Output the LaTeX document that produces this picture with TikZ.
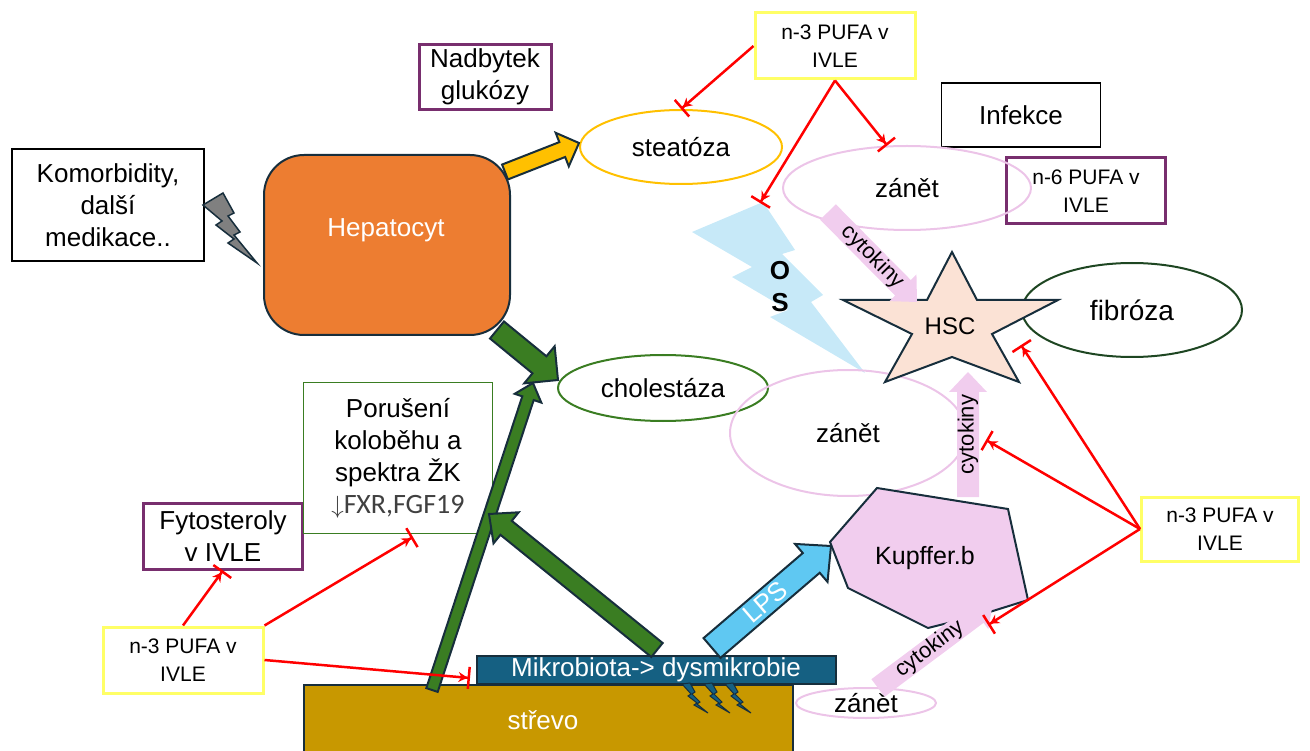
\documentclass[tikz,border=0pt]{standalone}
\usepackage{fontspec}
\setmainfont{Liberation Sans}
\newfontfamily\calibfont{Carlito}
\usetikzlibrary{shapes.geometric, arrows.meta, calc, positioning}

\definecolor{hepor}{RGB}{237,125,49}
\definecolor{darkol}{RGB}{23,46,60}
\definecolor{purp}{RGB}{120,46,110}
\definecolor{yelline}{RGB}{255,255,102}
\definecolor{steatc}{RGB}{255,192,0}
\definecolor{zanpink}{RGB}{236,196,232}
\definecolor{kupink}{RGB}{241,205,238}
\definecolor{cholgr}{RGB}{58,125,34}
\definecolor{fibgr}{RGB}{30,70,34}
\definecolor{hscfill}{RGB}{251,226,213}
\definecolor{osblue}{RGB}{199,233,248}
\definecolor{lpsblue}{RGB}{95,200,242}
\definecolor{mikroc}{RGB}{21,96,130}
\definecolor{strevc}{RGB}{200,152,0}
\definecolor{boltgray}{RGB}{128,128,128}
\definecolor{fxrtext}{RGB}{64,64,64}

% fat block arrow: style, from, to, half shaft, half head, head length
\newcommand{\fatarr}[6]{%
  \coordinate (fa-b) at ($(#3)!#6!(#2)$);
  \draw[#1] ($(#2)!#4!90:(#3)$) -- ($(fa-b)!#4!-90:(#2)$) -- ($(fa-b)!#5!-90:(#2)$)
    -- (#3) -- ($(fa-b)!#5!90:(#2)$) -- ($(fa-b)!#4!90:(#2)$) -- ($(#2)!#4!-90:(#3)$) -- cycle;
}

\tikzset{
  txtbox/.style={draw=black, line width=1.5pt, rectangle},
  purpbox/.style={draw=purp, line width=3pt, rectangle},
  pufabox/.style={draw=yelline, line width=3pt, rectangle, font=\fontsize{21}{28}\selectfont},
  ring/.style={ellipse, line width=2pt},
  inhib/.style={draw=red, line width=2.5pt, -{Stealth[length=9pt,width=10pt] Bar[width=22pt,line width=2.5pt]}},
  yelarr/.style={fill=steatc, draw=darkol, line width=2pt},
  grarr/.style={fill=cholgr, draw=darkol, line width=2pt},
  lpsarr/.style={fill=lpsblue, draw=darkol, line width=2pt},
  cytarr/.style={fill=kupink, draw=none},
  cytlab/.style={font=\fontsize{22}{26}\selectfont, sloped},
}

\begin{document}
\begin{tikzpicture}[x=1pt, y=-1pt,
  every node/.style={font=\fontsize{26}{32}\selectfont, align=center, inner sep=0pt}]
  \useasboundingbox (0,0) rectangle (1310,751);

  % oxidative stress bolt
  \fill[osblue] (692,232) -- (763,202) -- (795,250) -- (782,254) -- (823,295) -- (811,302)
    -- (865,373) -- (770,317) -- (788,310) -- (732,277) -- (752,267) -- cycle;
  \node[font=\bfseries\fontsize{26}{32}\selectfont] (os) at (780,287) {O\\S};

  % boxes
  \node[txtbox, minimum width=192pt, minimum height=112pt] (komor) at (108,205) {Komorbidity,\\další\\medikace..};
  \node[draw=darkol, fill=hepor, line width=2pt, rounded corners=40pt,
        minimum width=246pt, minimum height=180pt] (hep) at (387,245) {};
  \node[text=white] (heptxt) at (386,230) {Hepatocyt};
  \node[purpbox, minimum width=132pt, minimum height=65pt] (nadb) at (485,77) {Nadbytek\\glukózy};
  \node[pufabox, minimum width=160pt, minimum height=66pt] (pufatop) at (835,46) {n-3 PUFA v\\IVLE};
  \node[txtbox, minimum width=159pt, minimum height=64pt] (infek) at (1021,115) {Infekce};
  \node[purpbox, minimum width=159pt, minimum height=66pt, font=\fontsize{21}{28}\selectfont] (pufasix) at (1086,191) {n-6 PUFA v\\IVLE};
  \node[purpbox, minimum width=159pt, minimum height=66pt] (fyto) at (223,536) {Fytosteroly\\v IVLE};
  \node[draw=cholgr, line width=1.5pt, minimum width=189pt, minimum height=151pt] (porus) at (398,458)
    {Porušení\\koloběhu a\\spektra ŽK\\{\color{fxrtext}{\fontsize{26}{30}\selectfont$\big\downarrow$}\calibfont\fontsize{28}{32}\selectfont FXR,FGF19}};
  \node[pufabox, minimum width=160pt, minimum height=66pt] (pufaleft) at (183,660) {n-3 PUFA v\\IVLE};
  \node[pufabox, minimum width=157pt, minimum height=64pt] (pufaright) at (1220,529) {n-3 PUFA v\\IVLE};

  % ellipses
  \node[ring, draw=steatc, minimum width=202pt, minimum height=74pt] (steat) at (681,147) {steatóza};
  \node[ring, draw=zanpink, minimum width=248pt, minimum height=84pt] (zanA) at (907,188) {zánět};
  \node[ring, draw=fibgr, minimum width=220pt, minimum height=94pt, font=\fontsize{28}{32}\selectfont] (fib) at (1132,310) {fibróza};
  \node[ring, draw=cholgr, minimum width=210pt, minimum height=66pt] (chol) at (663,388) {cholestáza};
  \node[ring, draw=zanpink, minimum width=236pt, minimum height=126pt] (zanB) at (848,433) {zánět};
  \node[ring, draw=zanpink, minimum width=140pt, minimum height=30pt] (zanC) at (866,703) {zánět};

  % hepatic stellate cell
  \draw[fill=hscfill, draw=darkol, line width=2pt] (952,252) -- (977,300) -- (1058,300) -- (992,334)
    -- (1019,382) -- (952,357) -- (885,382) -- (912,334) -- (843,300) -- (927,300) -- cycle;
  \node[font=\fontsize{24}{28}\selectfont] (hsc) at (950,326) {HSC};

  % Kupffer cell
  \draw[fill=kupink, draw=darkol, line width=2pt] (877,488) -- (1008,509) -- (1028,600) -- (980,615)
    -- (928,628) -- (848,588) -- (830,542) -- cycle;
  \node[font=\fontsize{25}{30}\selectfont] (kup) at (925,558) {Kupffer.b};

  % gut
  \node[fill=strevc, draw=darkol, line width=2pt, minimum width=489pt, minimum height=80pt] (strevo) at (548,725) {};
  \node[text=white] (strevotxt) at (543,720) {střevo};
  \node[fill=mikroc, draw=darkol, line width=2pt, minimum width=359pt, minimum height=28pt, text=white] (mikro) at (656,670) {Mikrobiota-> dysmikrobie};
  \foreach \bx in {0,22,43}
    \draw[fill=mikroc, draw=darkol, line width=1pt, shift={(\bx,0)}] (682,684) -- (690,683) -- (695,692)
      -- (692,694) -- (700,702) -- (697,704) -- (708,713) -- (694,705) -- (697,703) -- (688,696) -- (691,694) -- cycle;

  % side effects bolt
  \draw[fill=boltgray, draw=darkol, line width=1.5pt] (203,205) -- (223,193) -- (234,213) -- (228,216)
    -- (240,232) -- (234,235) -- (257,263) -- (228,243) -- (234,239) -- (216,225) -- (222,221) -- cycle;

  % block arrows
  \coordinate (ya1) at (505,172);  \coordinate (ya2) at (579,143);
  \coordinate (ga1) at (497,330);  \coordinate (ga2) at (558,380);
  \coordinate (gb1) at (432,690);  \coordinate (gb2) at (533,383);
  \coordinate (gc1) at (657,650);  \coordinate (gc2) at (489,514);
  \coordinate (lp1) at (712,648);  \coordinate (lp2) at (831,546);
  \coordinate (ca1) at (828,212);  \coordinate (ca2) at (917,302);
  \coordinate (cb1) at (968,497);  \coordinate (cb2) at (968,372);
  \coordinate (cc1) at (878,688);  \coordinate (cc2) at (993,602);
  \fatarr{yelarr}{ya1}{ya2}{8pt}{18pt}{18pt}
  \fatarr{grarr}{ga1}{ga2}{11pt}{24pt}{24pt}
  \fatarr{grarr}{gb1}{gb2}{6pt}{14pt}{16pt}
  \fatarr{grarr}{gc1}{gc2}{9pt}{20pt}{22pt}
  \fatarr{lpsarr}{lp1}{lp2}{13pt}{25pt}{26pt}
  \fatarr{cytarr}{ca1}{ca2}{11pt}{19pt}{20pt}
  \fatarr{cytarr}{cb1}{cb2}{11pt}{19pt}{20pt}
  \fatarr{cytarr}{cc1}{cc2}{11pt}{19pt}{20pt}
  \path (lp1) -- node[sloped, pos=0.45, text=white] (lpslab) {LPS} (lp2);
  \path (ca1) -- node[cytlab] (cytA) {cytokiny} (ca2);
  \path (cb1) -- node[cytlab] (cytB) {cytokiny} (cb2);
  \path (cc1) -- node[cytlab, pos=0.45] (cytC) {cytokiny} (cc2);

  % inhibition by PUFA
  \coordinate (ostop) at (760,203);
  \coordinate (hscinh) at (1021,345);
  \coordinate (cytinh) at (986,440);
  \coordinate (kupinh) at (988,625);
  \coordinate (porinh) at (413,537);
  \coordinate (mikinh) at (470,678);
  \draw[inhib] (pufatop.west) -- (steat.north);
  \draw[inhib] (pufatop.south) -- (ostop);
  \draw[inhib] (pufatop.south) -- (zanA.115);
  \draw[inhib] (pufaright.west) -- (hscinh);
  \draw[inhib] (pufaright.west) -- (cytinh);
  \draw[inhib] (pufaright.west) -- (kupinh);
  \draw[inhib] (pufaleft.north) -- (fyto.south);
  \draw[inhib] (pufaleft.north east) -- (porinh);
  \draw[inhib] (pufaleft.east) -- (mikinh);
\end{tikzpicture}
\end{document}
